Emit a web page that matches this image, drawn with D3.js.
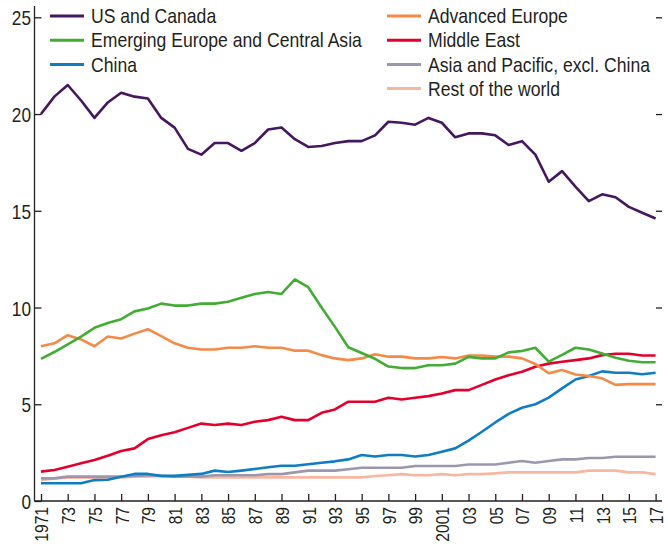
<!DOCTYPE html>
<html>
<head>
<meta charset="utf-8">
<script src="https://cdn.jsdelivr.net/npm/d3@7"></script>
<style>
  body { margin: 0; background: #fff; }
  text { font-family: "Liberation Sans", Arial, sans-serif; fill: #231f20; }
</style>
</head>
<body>
<div id="chart"></div>
<script>
// Energy share by region, 1971-2017

const years = d3.range(1971, 2018);

const usCanada = [20.0, 20.9, 21.5, 20.7, 19.8, 20.6, 21.1, 20.9, 20.8, 19.8, 19.3, 18.2, 17.9, 18.5, 18.5, 18.1, 18.5, 19.2, 19.3, 18.7, 18.3, 18.35, 18.5,
  18.6, 18.6, 18.9, 19.6, 19.55, 19.45, 19.8, 19.55, 18.8, 19.0, 19.0, 18.9, 18.4, 18.6, 17.9, 16.5, 17.05, 16.25, 15.5, 15.85, 15.7, 15.2, 14.9, 14.6];
const emergingEurope = [7.35, 7.7, 8.1, 8.5, 8.95, 9.2, 9.4, 9.8, 9.95, 10.2, 10.1, 10.1, 10.2, 10.2, 10.3, 10.5, 10.7, 10.8, 10.7, 11.45, 11.05, 10.0, 9.0,
  7.95, 7.65, 7.35, 6.95, 6.87, 6.87, 7.02, 7.02, 7.1, 7.45, 7.37, 7.37, 7.68, 7.75, 7.92, 7.2, 7.55, 7.92, 7.83, 7.62, 7.4, 7.25, 7.17, 7.17];
const china = [0.92, 0.92, 0.92, 0.92, 1.08, 1.1, 1.25, 1.4, 1.4, 1.3, 1.3, 1.35, 1.4, 1.57, 1.5, 1.57, 1.65, 1.74, 1.82, 1.82, 1.9, 1.98, 2.05,
  2.15, 2.38, 2.3, 2.38, 2.38, 2.3, 2.38, 2.55, 2.72, 3.12, 3.58, 4.06, 4.5, 4.82, 5.0, 5.34, 5.82, 6.28, 6.46, 6.7, 6.63, 6.63, 6.55, 6.63];
const advancedEurope = [8.0, 8.15, 8.57, 8.35, 8.0, 8.5, 8.4, 8.65, 8.88, 8.52, 8.15, 7.92, 7.83, 7.83, 7.92, 7.92, 8.0, 7.92, 7.92, 7.77, 7.77, 7.54, 7.37,
  7.28, 7.37, 7.58, 7.46, 7.46, 7.37, 7.37, 7.44, 7.37, 7.52, 7.52, 7.46, 7.46, 7.37, 7.08, 6.6, 6.77, 6.54, 6.46, 6.34, 6.0, 6.04, 6.04, 6.04];
const middleEast = [1.52, 1.6, 1.77, 1.95, 2.12, 2.34, 2.58, 2.72, 3.2, 3.4, 3.55, 3.78, 4.0, 3.93, 4.0, 3.93, 4.1, 4.18, 4.35, 4.18, 4.18, 4.56, 4.73,
  5.13, 5.13, 5.13, 5.34, 5.25, 5.34, 5.42, 5.56, 5.73, 5.73, 6.0, 6.28, 6.5, 6.68, 6.94, 7.1, 7.2, 7.28, 7.37, 7.54, 7.61, 7.61, 7.52, 7.52];
const asiaPacific = [1.17, 1.17, 1.26, 1.26, 1.26, 1.26, 1.26, 1.29, 1.33, 1.29, 1.26, 1.26, 1.26, 1.33, 1.33, 1.33, 1.33, 1.39, 1.39, 1.48, 1.57, 1.57, 1.57,
  1.64, 1.72, 1.72, 1.72, 1.72, 1.81, 1.81, 1.81, 1.81, 1.89, 1.89, 1.89, 1.98, 2.07, 1.98, 2.07, 2.15, 2.15, 2.22, 2.22, 2.29, 2.29, 2.29, 2.29];
const restOfWorld = [1.08, 1.17, 1.2, 1.2, 1.2, 1.2, 1.22, 1.26, 1.26, 1.29, 1.29, 1.26, 1.22, 1.22, 1.22, 1.22, 1.22, 1.22, 1.22, 1.22, 1.22, 1.22, 1.22,
  1.22, 1.22, 1.29, 1.33, 1.39, 1.33, 1.33, 1.39, 1.33, 1.39, 1.39, 1.43, 1.48, 1.48, 1.48, 1.48, 1.48, 1.48, 1.57, 1.57, 1.57, 1.48, 1.48, 1.39];

const yTicks = [0, 5, 10, 15, 20, 25];

const series = [
  { name: "US and Canada", values: usCanada, color: "#45175f" },
  { name: "Emerging Europe and Central Asia", values: emergingEurope, color: "#43ac34" },
  { name: "China", values: china, color: "#0f7dc2" },
  { name: "Advanced Europe", values: advancedEurope, color: "#f58a46" },
  { name: "Middle East", values: middleEast, color: "#e3002c" },
  { name: "Asia and Pacific, excl. China", values: asiaPacific, color: "#9d97ad" },
  { name: "Rest of the world", values: restOfWorld, color: "#f9b6a2" }
];

const width = 668,
  height = 552,
  left = 34.5,
  right = 662,
  bottom = 501,
  narrow = 0.82; // no narrow font installed, so squeeze Liberation Sans

const x = d3.scaleLinear().domain([1971, 2017]).range([41, 655.6]);
const y = d3.scaleLinear().domain([0, 25]).range([bottom, 17.3]);

const svg = d3.select("#chart")
  .append("svg")
  .attr("width", width)
  .attr("height", height);

// draw order: light lines first, so the darker ones sit on top
const drawOrder = [6, 5, 2, 4, 3, 1, 0];

const line = d3.line()
  .x((d, i) => x(years[i]))
  .y(d => y(d));

svg.append("g")
  .attr("fill", "none")
  .attr("stroke-width", 2.6)
  .attr("stroke-linejoin", "round")
  .selectAll("path")
  .data(drawOrder.map(i => series[i]))
  .join("path")
  .attr("stroke", d => d.color)
  .attr("d", d => line(d.values));

// left axis, ticks pointing inward
const yAxisLeft = svg.append("g")
  .attr("transform", `translate(${left},0)`)
  .call(d3.axisLeft(y).tickValues(yTicks).tickSizeInner(-7).tickSizeOuter(0));
yAxisLeft.select(".domain").attr("d", `M0,6V${bottom}`);
yAxisLeft.selectAll("text")
  .attr("font-size", 21)
  .attr("font-family", null)
  .attr("x", 0)
  .attr("dy", "0.36em")
  .attr("transform", `translate(-3.5,0) scale(${narrow},1)`);

// right axis: ticks only
const yAxisRight = svg.append("g")
  .attr("transform", `translate(${right},0)`)
  .call(d3.axisRight(y).tickValues(yTicks.slice(1)).tickSizeInner(-6).tickSizeOuter(0).tickFormat(""));
yAxisRight.select(".domain").remove();

// bottom axis
const xAxis = svg.append("g")
  .attr("transform", `translate(0,${bottom})`)
  .call(d3.axisBottom(x)
    .tickValues(years.filter(yr => yr % 2 === 1))
    .tickSizeInner(-7)
    .tickSizeOuter(0)
    .tickFormat(yr => (yr === 1971 || yr === 2001) ? String(yr) : String(yr).slice(2)));
xAxis.select(".domain").attr("d", `M${left},0H${right}`);
xAxis.selectAll("text")
  .attr("font-size", 19)
  .attr("font-family", null)
  .attr("text-anchor", "end")
  .attr("transform", `rotate(-90) scale(${narrow},1)`)
  .attr("x", -6 / narrow)
  .attr("y", 0)
  .attr("dy", "0.36em");

svg.selectAll(".tick line, .domain").attr("stroke", "#231f20").attr("stroke-width", 1.3);

// legend
const legendCols = [
  { x: 50, items: series.slice(0, 3) },
  { x: 387, items: series.slice(3) }
];

legendCols.forEach(col => {
  const g = svg.append("g").attr("transform", `translate(${col.x},16)`);
  const row = g.selectAll("g")
    .data(col.items)
    .join("g")
    .attr("transform", (d, i) => `translate(0,${i * 24.2})`);
  row.append("line")
    .attr("x1", 0)
    .attr("x2", 34)
    .attr("stroke", d => d.color)
    .attr("stroke-width", 3);
  row.append("text")
    .attr("transform", `translate(41,0) scale(0.88,1)`)
    .attr("dy", "0.36em")
    .attr("font-size", 20)
    .text(d => d.name);
});
</script>
</body>
</html>
